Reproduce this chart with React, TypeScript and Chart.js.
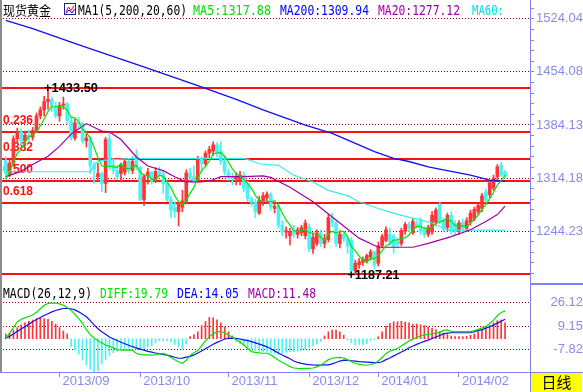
import React, { useEffect, useRef } from 'react';
import { Chart, registerables } from 'chart.js';

Chart.register(...registerables);

// ================= DATA =================
const monthNames = ['2013/08', '2013/09', '2013/10', '2013/11', '2013/12', '2014/01', '2014/02'];
const monthDays = [
  [13, 14, 15, 16, 19, 20, 21, 22, 23, 26, 27, 28, 29, 30],
  [2, 3, 4, 5, 6, 9, 10, 11, 12, 13, 16, 17, 18, 19, 20, 23, 24, 25, 26, 27, 30],
  [1, 2, 3, 4, 7, 8, 9, 10, 11, 14, 15, 16, 17, 18, 21, 22, 23, 24, 25, 28, 29, 30, 31],
  [1, 4, 5, 6, 7, 8, 11, 12, 13, 14, 15, 18, 19, 20, 21, 22, 25, 26, 27, 28, 29],
  [2, 3, 4, 5, 6, 9, 10, 11, 12, 13, 16, 17, 18, 19, 20, 23, 27, 30],
  [2, 3, 6, 7, 8, 9, 10, 13, 14, 15, 16, 17, 21, 22, 23, 24, 27, 28, 29, 30, 31],
  [3, 4, 5, 6, 7, 10, 11, 12, 13, 14, 17, 18, 19],
];

const open = [
  1337, 1320, 1334, 1366, 1375, 1363, 1371, 1368, 1377, 1396,
  1404, 1415, 1418, 1408, 1396, 1410, 1412, 1390, 1367, 1387,
  1386, 1363, 1366, 1331, 1316, 1320, 1307, 1366, 1332, 1324,
  1320, 1322, 1336, 1324, 1345, 1328, 1286, 1317, 1322, 1310,
  1323, 1320, 1307, 1286, 1275, 1270, 1276, 1284, 1321, 1316,
  1311, 1340, 1333, 1347, 1350, 1358, 1350, 1337, 1322, 1315,
  1313, 1310, 1318, 1306, 1287, 1282, 1268, 1282, 1288, 1293,
  1274, 1277, 1252, 1243, 1238, 1245, 1240, 1242, 1238, 1250,
  1221, 1228, 1242, 1228, 1233, 1262, 1255, 1228, 1240, 1234,
  1232, 1192, 1200, 1203, 1205, 1210, 1217, 1202, 1225, 1232,
  1240, 1238, 1230, 1228, 1244, 1253, 1242, 1254, 1258, 1248,
  1240, 1243, 1256, 1279, 1258, 1249, 1265, 1254, 1244, 1256,
  1248, 1256, 1260, 1270, 1274, 1296, 1292, 1301, 1316, 1331,
  1322,
];
const high = [
  1342, 1338, 1370, 1380, 1379, 1376, 1378, 1381, 1400, 1408,
  1422, 1433.5, 1421, 1414, 1414, 1421, 1414, 1395, 1392, 1394,
  1388, 1372, 1369, 1335, 1334, 1322, 1368, 1374, 1340, 1330,
  1334, 1340, 1338, 1342, 1352, 1330, 1319, 1327, 1323, 1328,
  1329, 1323, 1310, 1290, 1283, 1283, 1298, 1325, 1327, 1330,
  1343, 1342, 1350, 1356, 1362, 1361, 1362, 1344, 1326, 1321,
  1321, 1323, 1322, 1310, 1290, 1286, 1290, 1295, 1296, 1295,
  1282, 1280, 1258, 1250, 1248, 1252, 1249, 1252, 1259, 1254,
  1242, 1246, 1246, 1240, 1266, 1268, 1258, 1245, 1244, 1238,
  1236, 1206, 1208, 1210, 1214, 1220, 1218, 1230, 1240, 1250,
  1248, 1240, 1236, 1248, 1256, 1256, 1260, 1258, 1262, 1250,
  1252, 1270, 1275, 1283, 1262, 1268, 1270, 1258, 1258, 1260,
  1262, 1272, 1276, 1280, 1294, 1300, 1310, 1318, 1332, 1335,
  1324,
];
const low = [
  1312, 1316, 1330, 1360, 1358, 1358, 1362, 1364, 1374, 1392,
  1396, 1405, 1402, 1393, 1389, 1405, 1386, 1364, 1364, 1380,
  1360, 1355, 1320, 1307, 1309, 1296, 1295, 1325, 1320, 1312,
  1309, 1318, 1320, 1320, 1325, 1284, 1278, 1306, 1306, 1308,
  1316, 1294, 1283, 1262, 1262, 1251, 1270, 1280, 1311, 1308,
  1309, 1323, 1330, 1341, 1344, 1342, 1332, 1318, 1311, 1305,
  1305, 1305, 1296, 1283, 1277, 1262, 1266, 1278, 1281, 1272,
  1268, 1248, 1238, 1235, 1226, 1236, 1235, 1238, 1234, 1217,
  1215, 1225, 1224, 1222, 1230, 1250, 1224, 1222, 1230, 1215,
  1187.21, 1188, 1195, 1199, 1202, 1206, 1195, 1198, 1222, 1230,
  1226, 1215, 1222, 1225, 1240, 1244, 1240, 1248, 1240, 1236,
  1237, 1240, 1252, 1254, 1244, 1244, 1240, 1240, 1240, 1242,
  1244, 1252, 1258, 1266, 1270, 1282, 1288, 1298, 1312, 1316,
  1314,
];
const close = [
  1320, 1334, 1366, 1375, 1363, 1371, 1368, 1377, 1396, 1404,
  1415, 1418, 1408, 1396, 1410, 1412, 1390, 1367, 1387, 1386,
  1363, 1367, 1331, 1326, 1320, 1307, 1365, 1330, 1324, 1316,
  1331, 1336, 1324, 1336, 1328, 1286, 1316, 1322, 1310, 1323,
  1320, 1307, 1286, 1272, 1270, 1280, 1284, 1321, 1315, 1311,
  1340, 1333, 1347, 1352, 1358, 1346, 1336, 1322, 1315, 1313,
  1316, 1318, 1300, 1287, 1282, 1270, 1285, 1291, 1293, 1276,
  1277, 1252, 1243, 1245, 1244, 1240, 1246, 1249, 1255, 1221,
  1236, 1242, 1228, 1234, 1262, 1255, 1228, 1240, 1234, 1225,
  1192, 1202, 1204, 1207, 1212, 1217, 1200, 1225, 1237, 1246,
  1230, 1224, 1226, 1245, 1253, 1248, 1257, 1250, 1244, 1240,
  1249, 1265, 1272, 1257, 1247, 1265, 1244, 1244, 1255, 1248,
  1258, 1268, 1273, 1278, 1291, 1285, 1308, 1314, 1329, 1318,
  1317,
];

const ma5 = [
  1314, 1322, 1335, 1347, 1351.6, 1361.8, 1368.6, 1370.8, 1375, 1383.2,
  1392, 1402, 1408.2, 1408.2, 1409.4, 1408.8, 1403.2, 1395, 1393.2, 1388.4,
  1378.6, 1374, 1366.8, 1354.6, 1341.4, 1330.2, 1329.8, 1329.6, 1329.2, 1328.4,
  1333.2, 1327.4, 1326.2, 1328.6, 1331, 1322, 1318, 1317.6, 1312.4, 1311.4,
  1318.2, 1316.4, 1309.2, 1301.6, 1291, 1283, 1278.4, 1285.4, 1294, 1302.2,
  1314.2, 1324, 1329.2, 1336.6, 1346, 1347.2, 1347.8, 1342.8, 1335.4, 1326.4,
  1320.4, 1316.8, 1312.4, 1306.8, 1300.6, 1291.4, 1284.8, 1283, 1284.2, 1283,
  1284.4, 1277.8, 1268.2, 1258.6, 1252.2, 1244.8, 1243.6, 1244.8, 1246.8, 1242.2,
  1241.4, 1240.6, 1236.4, 1232.2, 1240.4, 1244.2, 1241.4, 1243.8, 1243.8, 1236.4,
  1223.8, 1218.6, 1211.4, 1206, 1203.4, 1208.4, 1208, 1212.2, 1218.2, 1225,
  1227.6, 1232.4, 1232.6, 1234.2, 1235.6, 1239.2, 1245.8, 1250.6, 1250.4, 1247.8,
  1248, 1249.6, 1254, 1256.6, 1258, 1261.2, 1257, 1251.4, 1251, 1251.2,
  1249.8, 1254.6, 1260.4, 1265, 1273.6, 1279, 1287, 1295.2, 1305.4, 1310.8,
  1317.88,
];
// smooth averages read at key candles: [candle index, value]
const ma200Pts = [
  [0, 1522], [7, 1511], [20, 1488], [30, 1471], [38, 1457], [50, 1436], [60, 1418], [67, 1404],
  [78, 1384], [85, 1373], [96, 1349], [101, 1340], [105, 1336], [110, 1329], [116, 1323],
  [121, 1318], [126, 1311.5], [130, 1309.94],
];
const ma20Pts = [
  [0, 1316], [4, 1323], [7, 1332], [11, 1343], [14, 1356], [17, 1372], [21, 1386], [25, 1376],
  [27, 1375], [30, 1365], [34, 1342], [37, 1330], [41, 1324], [44, 1316], [47, 1309], [51, 1309],
  [54, 1312], [56, 1316], [62, 1316], [67, 1317], [69, 1315], [74, 1302], [80, 1283], [86, 1259],
  [92, 1235], [97, 1223], [106, 1223], [110, 1228], [116, 1237], [121, 1246], [125, 1257],
  [128, 1266], [130, 1277.12],
];
const ma60Pts = [
  [0, 1322.5], [22, 1322.5], [24, 1337], [33, 1340], [62, 1340], [64, 1337], [66, 1333], [71, 1331],
  [75, 1318], [80, 1309], [84, 1298], [89, 1291], [92, 1283], [97, 1274], [101, 1268], [103, 1265],
  [108, 1259], [111, 1255], [115, 1245.5], [130, 1245.5],
];

const diff = [
  0.3, 4, 8, 12, 14, 15, 16, 17, 19, 21.5,
  24, 25.4, 25.6, 25.5, 25, 24, 22.5, 20.5, 17.5, 14.5,
  11, 6.5, 3, 0.5, -1.5, -3, -4.5, -5.5, -6.5, -7.8,
  -8.2, -8.1, -8, -8.3, -10.5, -11.2, -11.5, -11.6, -11.7, -11.3,
  -10.8, -10.5, -11.5, -13.5, -15, -16.5, -17.6, -15.5, -12, -10,
  -8.5, -5, -1.5, 1.5, 3.5, 5, 5.2, 4.2, 2.7, 1,
  -0.8, -2.5, -4.5, -7, -9.2, -9.8, -10.2, -10.4, -10.4, -11.5,
  -13.5, -15.5, -16.8, -18.5, -20, -21, -21.3, -21.4, -21.3, -21.2,
  -21, -20.2, -19, -17, -15, -14, -13.5, -13.3, -13.8, -15,
  -16.5, -17.6, -18.4, -18.8, -19, -18.5, -17.8, -16, -13.5, -10.5,
  -9, -8, -7, -5.2, -3.5, -1.5, -0.3, 1, 2, 2.8,
  3.2, 3.6, 3.9, 4.8, 6, 6.3, 5.3, 5.1, 5.1, 5.1,
  5.1, 5.1, 5.8, 6.8, 7.8, 8.8, 10.8, 13.5, 16.5, 18.9,
  19.79,
];
const dea = [
  0.3, 1.8, 3.4, 5.3, 7, 8.7, 10.5, 12.2, 13.8, 15.3,
  16.7, 18, 19.3, 20.3, 21.1, 21.7, 21.9, 21.5, 20.7, 19.3,
  17.5, 15.8, 13, 10, 7.2, 5, 3.2, 1.3, 0, -1.3,
  -2.5, -3.6, -4.7, -5.7, -6.6, -7.4, -8.2, -9, -9.6, -10.2,
  -10.7, -11.2, -11.8, -12.5, -13.3, -14, -13.9, -13.2, -12.6, -11.6,
  -10.2, -8.8, -7.2, -5.6, -4, -2.6, -1.4, -0.2, 0.3, 0.5,
  0.3, -0.2, -0.8, -1.4, -2.1, -3, -3.9, -4.8, -5.8, -7.2,
  -8.7, -10.2, -11.7, -13, -14.3, -16, -17, -17.7, -18.2, -18.6,
  -18.8, -18.9, -18.9, -18.8, -18.8, -18, -17, -16, -15.3, -15.5,
  -15.8, -16.1, -16.4, -16.6, -16.8, -17, -17.2, -17.2, -16.5, -15,
  -13.8, -12.3, -10.9, -9.5, -8.2, -6.5, -5.2, -4, -2.9, -1.9,
  -1, 0.2, 1.3, 2.3, 3.5, 4, 4.3, 4.3, 4.3, 4.3,
  4.3, 4.3, 5, 5.8, 6.6, 7.6, 8.6, 9.8, 11.2, 12.6,
  14.05,
];
const macd = [
  3.5, 4, 6, 8, 10, 11.5, 12.5, 13.5, 14.5, 14.7,
  14.5, 14, 12.5, 10.5, 8, 5.5, 3.5, -5.7, -8, -11,
  -15, -18.8, -22, -24, -23, -18, -15.2, -12, -10, -9,
  -8, -7, -6.5, -6, -7.5, -8, -7, -6, -5, -3,
  -1.5, -1.5, -1.3, -2.5, -4, -6, -7.6, -3.5, 1.5, 3,
  5, 9.5, 12.5, 15.3, 15, 13.5, 11.5, 8.5, 5, 2,
  -2, -3.5, -5, -6.5, -7.5, -8.5, -9, -9.3, -9.5, -10,
  -11, -11.7, -10.5, -9.8, -9.3, -9.3, -9, -8.5, -7.8, -6.5,
  -5, -3.5, -2.1, 2, 5, 6.3, 6.3, 5, 2.5, -1,
  -3, -4.5, -4, -4.5, -3.5, -1.5, -0.5, 1.5, 5, 9,
  11, 12.2, 12.2, 12.5, 12, 11.5, 10.5, 10.5, 10, 9.5,
  8.5, 7.5, 6.5, 5, 4, 3, 2, 1.5, 1.5, 1.5,
  1.7, 2.5, 3.5, 5, 6.5, 8, 9.5, 11.5, 13, 13.5,
  11.48,
];

const priceTickLabels = ['1244.23', '1314.18', '1384.13', '1454.08', '1524.04'];
const macdTickLabels = ['-7.82', '9.15', '26.12'];
const fibLevels = [1433.5, 1375.38, 1339.42, 1310.36, 1281.3, 1187.21];
const fibLabels = ['', '0.236', '0.382', '0.500', '0.618', ''];

// ================= LAYOUT / STYLE =================
const W = 583;
const HA = 283;
const HB = 109;
const AXIS_W = 53;
const PRICE_MAX = 1548.87;
const PRICE_MIN = 1175.87;
const MACD_MAX = 40.01;
const MACD_MIN = -23.86;

const UP = '#ff3434';
const DOWN = '#4cf2f2';
const GREEN = '#00e400';
const BLUE = '#1010f0';
const PURPLE = '#a000a8';
const CYAN = '#38ecec';
const LAV = '#8282f4';
const LAV_TXT = '#8a8aee';
const DOT_RED = '#9a0000';
const FIB_RED = '#ff1010';
const CLEAR = 'rgba(0,0,0,0)';
const SANS = '"Liberation Sans", Arial, sans-serif';
const MONO = '"DejaVu Sans Mono", "Liberation Mono", monospace';
const CJK = '"Noto Sans CJK SC", "Noto Sans", sans-serif';

// ================= DERIVED TABLES =================
const dates: string[] = [];
const monthStartIdx: number[] = [];
monthNames.forEach((m, mi) => {
  monthDays[mi].forEach((d, di) => {
    if (mi > 0 && di === 0) monthStartIdx.push(dates.length);
    dates.push(m + '/' + String(d).padStart(2, '0'));
  });
});
const monthTickLabels = monthNames.slice(1);
const N = dates.length; // 131
const LEAD = 1;
const TRAIL = 6;
const categories = [...Array(LEAD).fill(''), ...dates, ...Array(TRAIL).fill('')];
const pad = (a: any[]) => [...Array(LEAD).fill(null), ...a, ...Array(TRAIL).fill(null)];
const sparse = (pts: number[][]) => {
  const a: (number | null)[] = new Array(N).fill(null);
  pts.forEach(([i, v]) => { a[i] = v; });
  return a;
};
const ma200 = sparse(ma200Pts);
const ma20 = sparse(ma20Pts);
const ma60 = sparse(ma60Pts);
const candleColors = pad(open.map((o, i) => (close[i] >= o ? UP : DOWN)));
const bodies = pad(open.map((o, i) => [o, close[i]]));
const wicks = pad(low.map((l, i) => [l, high[i]]));
const macdColors = pad(macd.map((v) => (v >= 0 ? UP : DOWN)));

const priceMajors = priceTickLabels.map(Number);
const priceStep = (priceMajors[1] - priceMajors[0]) / 5;
const priceTicks: any[] = [];
priceTicks.push({ value: PRICE_MIN + 0.5, m: false, e: true });
for (let v = priceMajors[0] - priceStep * 4; v < priceMajors[4] + priceStep * 1.5; v += priceStep) {
  const mi = priceMajors.findIndex((p) => Math.abs(p - v) < 0.05);
  priceTicks.push({ value: mi >= 0 ? priceMajors[mi] : v, m: mi >= 0, lab: mi >= 0 ? priceTickLabels[mi] : '' });
}
priceTicks.push({ value: PRICE_MAX - 0.5, m: false, e: true });

const macdTicks: any[] = [
  { value: MACD_MIN + 0.5, m: false, e: true },
  ...macdTickLabels.map((l) => ({ value: Number(l), m: true, lab: l })),
  { value: MACD_MAX - 0.5, m: false, e: true },
];

const last = N - 1;
const tickFont = (c: any) =>
  c.tick && c.tick.m ? { family: SANS, size: 13 } : { family: SANS, size: 13, lineHeight: 0 };

// ================= PLUGINS =================
function drawLeftEdge(ctx: CanvasRenderingContext2D, h: number) {
  ctx.fillStyle = '#8c8c8c';
  ctx.fillRect(0, 0, 2, h);
}

const mainDecor = {
  id: 'mainDecor',
  beforeDatasetsDraw(chart: any) {
    const { ctx } = chart;
    const y = chart.scales.y;
    ctx.save();
    ctx.strokeStyle = FIB_RED;
    ctx.lineWidth = 2;
    fibLevels.forEach((v) => {
      const py = Math.round(y.getPixelForValue(v));
      ctx.beginPath();
      ctx.moveTo(0, py);
      ctx.lineTo(chart.chartArea.right, py);
      ctx.stroke();
    });
    ctx.fillStyle = FIB_RED;
    ctx.font = 'bold 13px ' + SANS;
    ctx.textBaseline = 'alphabetic';
    fibLabels.forEach((t, i) => {
      if (!t) return;
      const py = y.getPixelForValue(fibLevels[i]);
      ctx.fillText(t, 3, py - 8, 30);
    });
    ctx.restore();
  },
  afterDatasetsDraw(chart: any) {
    const { ctx } = chart;
    const x = chart.scales.x;
    const y = chart.scales.y;
    ctx.save();
    // extreme markers
    const hiIdx = high.indexOf(Math.max(...high));
    const loIdx = low.indexOf(Math.min(...low));
    ctx.fillStyle = '#000';
    ctx.font = 'bold 13px ' + SANS;
    ctx.textBaseline = 'middle';
    const hx = x.getPixelForValue(hiIdx + LEAD);
    const hy = y.getPixelForValue(high[hiIdx]);
    ctx.fillText('+' + high[hiIdx].toFixed(2), hx - 4, hy + 1, 54);
    const lx = x.getPixelForValue(loIdx + LEAD);
    const ly = y.getPixelForValue(low[loIdx]);
    ctx.fillText('+' + low[loIdx].toFixed(2), lx - 4, ly + 1.5, 52);
    ctx.restore();
  },
  afterDraw(chart: any) {
    const { ctx } = chart;
    ctx.save();
    drawLeftEdge(ctx, HA);
    // title row
    ctx.textBaseline = 'alphabetic';
    ctx.fillStyle = '#000';
    ctx.font = '13px ' + CJK;
    ctx.fillText('现货黄金', 3, 14.5, 48);
    // icon
    ctx.fillStyle = '#fff';
    ctx.fillRect(64, 3, 12, 12);
    ctx.strokeStyle = '#202080';
    ctx.lineWidth = 1;
    ctx.strokeRect(64.5, 3.5, 11, 11);
    ctx.strokeStyle = '#ff0000';
    ctx.beginPath();
    ctx.moveTo(66, 12); ctx.lineTo(68.5, 7); ctx.lineTo(71, 10.5); ctx.lineTo(74, 5.5);
    ctx.stroke();
    ctx.strokeStyle = '#0000ff';
    ctx.beginPath();
    ctx.moveTo(66, 13.5); ctx.lineTo(69, 10); ctx.lineTo(72, 13); ctx.lineTo(74.5, 9);
    ctx.stroke();
    const items: [string, number, number, string][] = [
      ['MA1(5,200,20,60)', 78, 109, '#000'],
      ['MA5:' + ma5[last].toFixed(2), 193, 78, GREEN],
      ['MA200:' + (ma200[last] as number).toFixed(2), 280, 89, '#0000ff'],
      ['MA20:' + (ma20[last] as number).toFixed(2), 378, 82, PURPLE],
      ['MA60:', 472, 32, '#00e0e0'],
    ];
    ctx.font = '13.5px ' + MONO;
    items.forEach(([t, px, mw, c]) => {
      ctx.fillStyle = c;
      ctx.fillText(t, px, 14.5, mw);
    });
    ctx.restore();
  },
};

const macdDecor = {
  id: 'macdDecor',
  afterDraw(chart: any) {
    const { ctx } = chart;
    const area = chart.chartArea;
    ctx.save();
    drawLeftEdge(ctx, area.bottom);
    ctx.textBaseline = 'alphabetic';
    ctx.font = '13.5px ' + MONO;
    const items: [string, number, number, string][] = [
      ['MACD(26,12,9)', 3, 89, '#000'],
      ['DIFF:' + diff[last].toFixed(2), 100, 68, GREEN],
      ['DEA:' + dea[last].toFixed(2), 177, 62, '#0000ff'],
      ['MACD:' + macd[last].toFixed(2), 248, 68, PURPLE],
    ];
    items.forEach(([t, px, mw, c]) => {
      ctx.fillStyle = c;
      ctx.fillText(t, px, 15.3, mw);
    });
    // axis column decorations
    ctx.fillStyle = LAV;
    ctx.fillRect(area.right, 0, W - area.right, 2);
    ctx.fillRect(area.right, area.bottom, 1, HB - area.bottom);
    ctx.fillRect(area.right, area.bottom, W - area.right, 1);
    ctx.fillStyle = '#ffff00';
    ctx.fillRect(area.right + 1, area.bottom + 1, W - area.right - 2, HB - area.bottom - 1);
    ctx.fillStyle = '#000';
    ctx.font = '15px ' + CJK;
    ctx.textAlign = 'center';
    ctx.textBaseline = 'middle';
    ctx.fillText('日线', area.right + (W - area.right) / 2, area.bottom + 10.5);
    ctx.restore();
  },
};

// ================= CONFIGS =================
function mainConfig(): any {
  return {
    type: 'bar',
    data: {
      labels: categories,
      datasets: [
        { type: 'line', label: 'MA5', data: pad(ma5), borderColor: GREEN, borderWidth: 1.2, pointRadius: 0, tension: 0, spanGaps: true, order: 0 },
        { type: 'line', label: 'MA200', data: pad(ma200), borderColor: BLUE, borderWidth: 1.3, pointRadius: 0, tension: 0, spanGaps: true, order: 1 },
        { type: 'line', label: 'MA20', data: pad(ma20), borderColor: PURPLE, borderWidth: 1.2, pointRadius: 0, tension: 0, spanGaps: true, order: 2 },
        { type: 'line', label: 'MA60', data: pad(ma60), borderColor: CYAN, borderWidth: 1.2, pointRadius: 0, tension: 0, spanGaps: true, order: 3 },
        { type: 'bar', label: 'body', data: bodies, backgroundColor: candleColors, borderWidth: 0, barThickness: 3, grouped: false, minBarLength: 1, order: 4 },
        { type: 'bar', label: 'wick', data: wicks, backgroundColor: candleColors, borderWidth: 0, barThickness: 1, grouped: false, order: 5 },
      ],
    },
    options: {
      animation: false,
      responsive: false,
      maintainAspectRatio: false,
      events: [],
      layout: { padding: 0 },
      plugins: { legend: { display: false }, tooltip: { enabled: false } },
      scales: {
        x: { type: 'category', display: false, offset: true, grid: { offset: false } },
        y: {
          position: 'right',
          min: PRICE_MIN,
          max: PRICE_MAX,
          afterFit: (s: any) => { s.width = AXIS_W; },
          afterBuildTicks: (s: any) => { s.ticks = priceTicks.map((t) => ({ ...t })); },
          ticks: {
            autoSkip: false,
            maxTicksLimit: 1000,
            padding: 0,
            crossAlign: 'far',
            color: LAV_TXT,
            font: tickFont,
            callback: (_v: any, i: number, ts: any[]) => (ts[i] && ts[i].m ? ts[i].lab : ''),
          },
          grid: {
            color: (c: any) => (c.tick && c.tick.m ? DOT_RED : CLEAR),
            lineWidth: 1,
            drawTicks: true,
            tickLength: 4,
            tickColor: (c: any) => (c.tick && c.tick.e ? CLEAR : LAV),
          },
          border: { display: true, color: LAV, width: 1, dash: [1, 2] },
        },
      },
    },
    plugins: [mainDecor],
  };
}

function macdConfig(): any {
  return {
    type: 'bar',
    data: {
      labels: categories,
      datasets: [
        { type: 'line', label: 'DIFF', data: pad(diff), borderColor: GREEN, borderWidth: 1.2, pointRadius: 0, tension: 0, order: 0 },
        { type: 'line', label: 'DEA', data: pad(dea), borderColor: BLUE, borderWidth: 1.2, pointRadius: 0, tension: 0, order: 1 },
        { type: 'bar', label: 'MACD', data: pad(macd), backgroundColor: macdColors, borderWidth: 0, barThickness: 1, grouped: false, order: 2 },
      ],
    },
    options: {
      animation: false,
      responsive: false,
      maintainAspectRatio: false,
      events: [],
      layout: { padding: 0 },
      plugins: { legend: { display: false }, tooltip: { enabled: false } },
      scales: {
        x: {
          type: 'category',
          position: 'bottom',
          offset: true,
          afterFit: (s: any) => { s.height = HB - 89; },
          afterBuildTicks: (s: any) => { s.ticks = monthStartIdx.map((k) => ({ value: k + LEAD })); },
          ticks: {
            autoSkip: false,
            maxRotation: 0,
            minRotation: 0,
            align: 'start',
            labelOffset: 3,
            padding: -3,
            color: LAV_TXT,
            font: { family: SANS, size: 13 },
            callback: (_v: any, i: number) => monthTickLabels[i],
          },
          grid: { offset: false, drawOnChartArea: false, drawTicks: true, tickLength: 5, tickColor: LAV, color: LAV },
          border: { display: true, color: LAV, width: 1 },
        },
        y: {
          position: 'right',
          min: MACD_MIN,
          max: MACD_MAX,
          afterFit: (s: any) => { s.width = AXIS_W; },
          afterBuildTicks: (s: any) => { s.ticks = macdTicks.map((t) => ({ ...t })); },
          ticks: {
            autoSkip: false,
            maxTicksLimit: 1000,
            padding: 0,
            crossAlign: 'far',
            color: LAV_TXT,
            font: tickFont,
            callback: (_v: any, i: number, ts: any[]) => (ts[i] && ts[i].m ? ts[i].lab : ''),
          },
          grid: {
            color: (c: any) => (c.tick && c.tick.m ? DOT_RED : CLEAR),
            lineWidth: 1,
            drawTicks: true,
            tickLength: 17,
            tickColor: CLEAR,
          },
          border: { display: true, color: LAV, width: 1, dash: [1, 2] },
        },
      },
    },
    plugins: [macdDecor],
  };
}

export default function App() {
  const refA = useRef<HTMLCanvasElement>(null);
  const refB = useRef<HTMLCanvasElement>(null);
  useEffect(() => {
    const a = new Chart(refA.current as HTMLCanvasElement, mainConfig());
    const b = new Chart(refB.current as HTMLCanvasElement, macdConfig());
    return () => {
      a.destroy();
      b.destroy();
    };
  }, []);
  return (
    <div style={{ position: 'fixed', left: 0, top: 0, width: W, height: HA + HB, background: '#fff', overflow: 'hidden' }}>
      <canvas ref={refA} width={W} height={HA} style={{ position: 'absolute', left: 0, top: 0, width: W, height: HA }} />
      <canvas ref={refB} width={W} height={HB} style={{ position: 'absolute', left: 0, top: HA, width: W, height: HB }} />
    </div>
  );
}
